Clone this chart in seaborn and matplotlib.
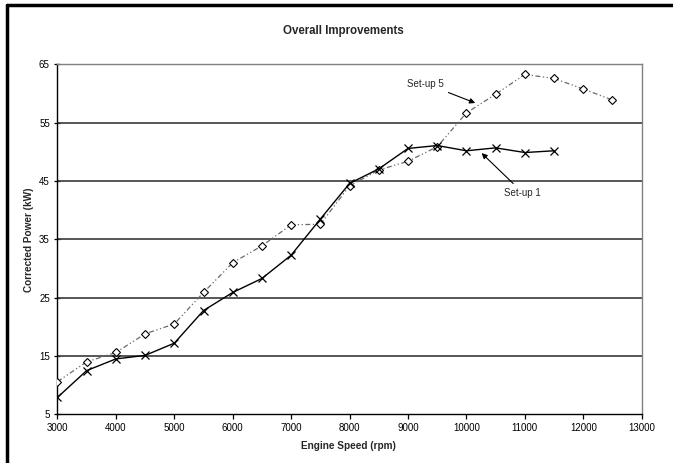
import matplotlib
matplotlib.use("Agg")
import matplotlib.pyplot as plt
from matplotlib.lines import Line2D
import seaborn as sns
import pandas as pd

# Engine speed (rpm) and corrected power (kW) for each set-up
speed_setup1 = [3000, 3500, 4000, 4500, 5000, 5500, 6000, 6500, 7000, 7500,
                8000, 8500, 9000, 9500, 10000, 10500, 11000, 11500]
power_setup1 = [7.9, 12.5, 14.5, 15.1, 17.2, 22.8, 25.9, 28.3, 32.3, 38.5,
                44.6, 47.1, 50.6, 51.1, 50.2, 50.7, 49.9, 50.2]

speed_setup5 = [3000, 3500, 4000, 4500, 5000, 5500, 6000, 6500, 7000, 7500,
                8000, 8500, 9000, 9500, 10000, 10500, 11000, 11500, 12000, 12500]
power_setup5 = [10.6, 14.0, 15.6, 18.8, 20.5, 25.9, 31.0, 33.9, 37.5, 37.6,
                44.2, 46.9, 48.4, 50.9, 56.7, 59.9, 63.3, 62.6, 60.8, 58.9]

x_ticks = [3000, 4000, 5000, 6000, 7000, 8000, 9000, 10000, 11000, 12000, 13000]
y_ticks = [5, 15, 25, 35, 45, 55, 65]

sns.set_theme(style="white")
plt.rcParams["font.family"] = ["Liberation Sans", "DejaVu Sans"]

df1 = pd.DataFrame({"speed": speed_setup1, "power": power_setup1})
df5 = pd.DataFrame({"speed": speed_setup5, "power": power_setup5})

fig = plt.figure(figsize=(6.73, 4.63), dpi=100)
ax = fig.add_axes([0.0854, 0.1052, 0.8681, 0.7555])

# horizontal grid lines
for yv in y_ticks[1:-1]:
    ax.axhline(yv, color="#3a3a3a", lw=1.2, zorder=1)

sns.lineplot(data=df5, x="speed", y="power", ax=ax, color="#6a6a6a", lw=0.9,
             marker="D", markersize=4, markerfacecolor="white",
             markeredgecolor="black", markeredgewidth=0.8, zorder=3)
ax.lines[-1].set_dashes([4, 2, 1, 2, 1, 2])

sns.lineplot(data=df1, x="speed", y="power", ax=ax, color="black", lw=1.0,
             marker="x", markersize=6, markeredgecolor="black",
             markeredgewidth=0.9, zorder=4)

ax.set_xlim(3000, 13000)
ax.set_ylim(5, 65)
ax.set_xticks(x_ticks)
ax.set_yticks(y_ticks)
ax.set_xlabel("")
ax.set_ylabel("")
ax.tick_params(axis="both", labelsize=7, colors="black", pad=3)
ax.tick_params(axis="y", direction="inout", length=5, width=0.9, left=True)
ax.tick_params(axis="x", direction="out", length=3.5, width=0.9, bottom=True)

for side in ["left", "bottom"]:
    ax.spines[side].set_color("black")
    ax.spines[side].set_linewidth(1.0)
for side in ["top", "right"]:
    ax.spines[side].set_color("#808080")
    ax.spines[side].set_linewidth(1.0)

arrow = dict(arrowstyle="-|>", color="black", lw=0.8, mutation_scale=8,
             shrinkA=1, shrinkB=0)
ax.annotate("Set-up 5", xy=(10150, 58.4), xytext=(9620, 61.7),
            fontsize=7, ha="right", va="center", arrowprops=arrow)
ax.annotate("Set-up 1", xy=(10260, 49.8), xytext=(10650, 43.0),
            fontsize=7, ha="left", va="center", arrowprops=arrow)

fig.text(0.510, 0.934, "Overall Improvements", ha="center", va="center",
         fontsize=8.3, fontweight="bold")
fig.text(0.518, 0.037, "Engine Speed (rpm)", ha="center", va="center",
         fontsize=7.2, fontweight="bold")
fig.text(0.0436, 0.482, "Corrected Power (kW)", ha="center", va="center",
         fontsize=7.2, fontweight="bold", rotation=90)

# outer frame (top and left edges)
fig.add_artist(Line2D([0.0111, 1.0], [0.9892, 0.9892], color="black", lw=2.5,
                      transform=fig.transFigure))
fig.add_artist(Line2D([0.0111, 0.0111], [0.0, 0.9892], color="black", lw=2.5,
                      transform=fig.transFigure))

fig.savefig("out.png", dpi=100)
